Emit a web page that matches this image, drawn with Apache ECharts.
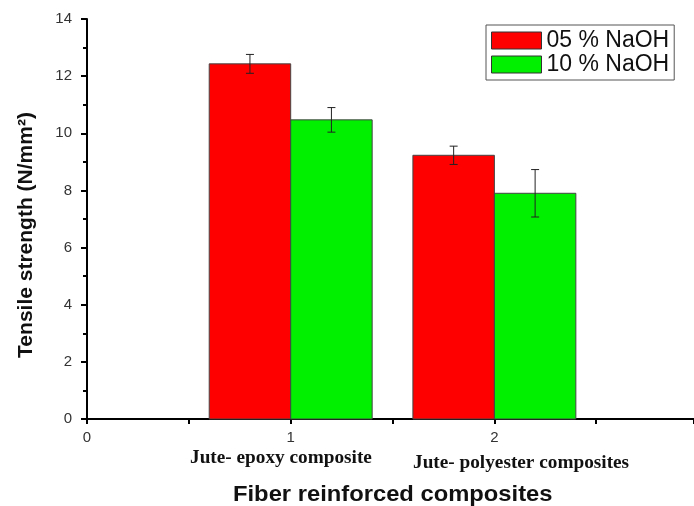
<!DOCTYPE html>
<html>
<head>
<meta charset="utf-8">
<script src="https://cdn.jsdelivr.net/npm/echarts@6/dist/echarts.min.js"></script>
<style>
  html, body { margin: 0; padding: 0; background: #fff; }
  #chart { width: 694px; height: 506px; }
</style>
</head>
<body>
<div id="chart"></div>
<script>
// group positions on the x axis and their names
var positions = [1, 2];
var groupNames = ["Jute- epoxy composite", "Jute- polyester composites"];
// tensile strength (N/mm2) and error bars
var naoh05 = [12.43, 9.23];
var err05 = [0.33, 0.32];
var naoh10 = [10.47, 7.9];
var err10 = [0.43, 0.83];
var seriesNames = ["05 % NaOH", "10 % NaOH"];

var barHalf = 0.2; // half bar width, in x units

function barRenderer(offset) {
  return function (params, api) {
    var x = api.value(0) + offset;
    var v = api.value(1);
    var e = api.value(2);
    var p0 = api.coord([x - barHalf, 0]);
    var p1 = api.coord([x + barHalf, v]);
    var top = api.coord([x, v + e]);
    var bot = api.coord([x, v - e]);
    var cap = 4;
    var errStyle = { stroke: "#222", lineWidth: 1 };
    return {
      type: "group",
      children: [
        {
          type: "rect",
          shape: { x: p0[0], y: p1[1], width: p1[0] - p0[0], height: p0[1] - p1[1] },
          style: { fill: api.visual("color"), stroke: "#444", lineWidth: 1 }
        },
        { type: "line", shape: { x1: top[0], y1: top[1], x2: bot[0], y2: bot[1] }, style: errStyle },
        { type: "line", shape: { x1: top[0] - cap, y1: top[1], x2: top[0] + cap, y2: top[1] }, style: errStyle },
        { type: "line", shape: { x1: bot[0] - cap, y1: bot[1], x2: bot[0] + cap, y2: bot[1] }, style: errStyle }
      ]
    };
  };
}

var chart = echarts.init(document.getElementById("chart"));

var option = {
  animation: false,
  grid: { left: 87, right: 0, top: 19, bottom: 87, outerBoundsMode: "none" },
  legend: {
    orient: "vertical",
    left: 486,
    top: 25,
    padding: [4, 5, 4, 5],
    itemWidth: 50,
    itemHeight: 17,
    itemGap: 1,
    borderColor: "#555",
    borderWidth: 1,
    icon: "rect",
    data: seriesNames,
    itemStyle: { borderColor: "#333", borderWidth: 1 },
    textStyle: { fontFamily: "Liberation Sans, Arial", fontSize: 23, lineHeight: 23, color: "#111" }
  },
  xAxis: {
    type: "value",
    min: 0,
    max: 2.98,
    interval: 1,
    splitLine: { show: false },
    axisLine: { lineStyle: { color: "#000", width: 2 } },
    axisTick: { show: true, length: 5, lineStyle: { color: "#000", width: 2 } },
    minorTick: { show: true, splitNumber: 2, length: 5, lineStyle: { color: "#000", width: 2 } },
    axisLabel: {
      margin: 11,
      fontFamily: "Liberation Sans, Arial",
      fontSize: 15,
      color: "#333",
      formatter: function (v) { return v % 1 === 0 ? String(v) : ""; }
    }
  },
  yAxis: {
    type: "value",
    min: 0,
    max: 14,
    interval: 2,
    splitLine: { show: false },
    axisLine: { show: true, lineStyle: { color: "#000", width: 2 } },
    axisTick: { show: true, length: 6, lineStyle: { color: "#000", width: 2 } },
    minorTick: { show: true, splitNumber: 2, length: 4, lineStyle: { color: "#000", width: 2 } },
    axisLabel: {
      margin: 15,
      fontFamily: "Liberation Sans, Arial",
      fontSize: 15,
      color: "#333"
    }
  },
  series: [
    {
      name: seriesNames[0],
      type: "custom",
      renderItem: barRenderer(-barHalf),
      itemStyle: { color: "#ff0000", borderColor: "#333", borderWidth: 1 },
      encode: { x: 0, y: 1 },
      data: positions.map(function (p, i) { return [p, naoh05[i], err05[i]]; })
    },
    {
      name: seriesNames[1],
      type: "custom",
      renderItem: barRenderer(barHalf),
      itemStyle: { color: "#00f000", borderColor: "#333", borderWidth: 1 },
      encode: { x: 0, y: 1 },
      data: positions.map(function (p, i) { return [p, naoh10[i], err10[i]]; })
    }
  ],
  graphic: [
    {
      type: "text",
      x: 190,
      y: 449,
      scaleX: 1.07,
      style: { text: groupNames[0], font: "bold 18px 'Liberation Serif', 'Times New Roman'", fill: "#111" }
    },
    {
      type: "text",
      x: 413,
      y: 454,
      scaleX: 1.07,
      style: { text: groupNames[1], font: "bold 18px 'Liberation Serif', 'Times New Roman'", fill: "#111" }
    },
    {
      type: "text",
      x: 233,
      y: 484,
      scaleX: 1.08,
      style: { text: "Fiber reinforced composites", font: "bold 22px 'Liberation Sans', Arial", fill: "#111" }
    },
    {
      type: "text",
      x: 26,
      y: 235,
      rotation: Math.PI / 2,
      style: {
        text: "Tensile strength (N/mm²)",
        font: "bold 21px 'Liberation Sans', Arial",
        fill: "#111",
        align: "center",
        verticalAlign: "middle"
      }
    }
  ]
};

chart.setOption(option);
</script>
</body>
</html>
